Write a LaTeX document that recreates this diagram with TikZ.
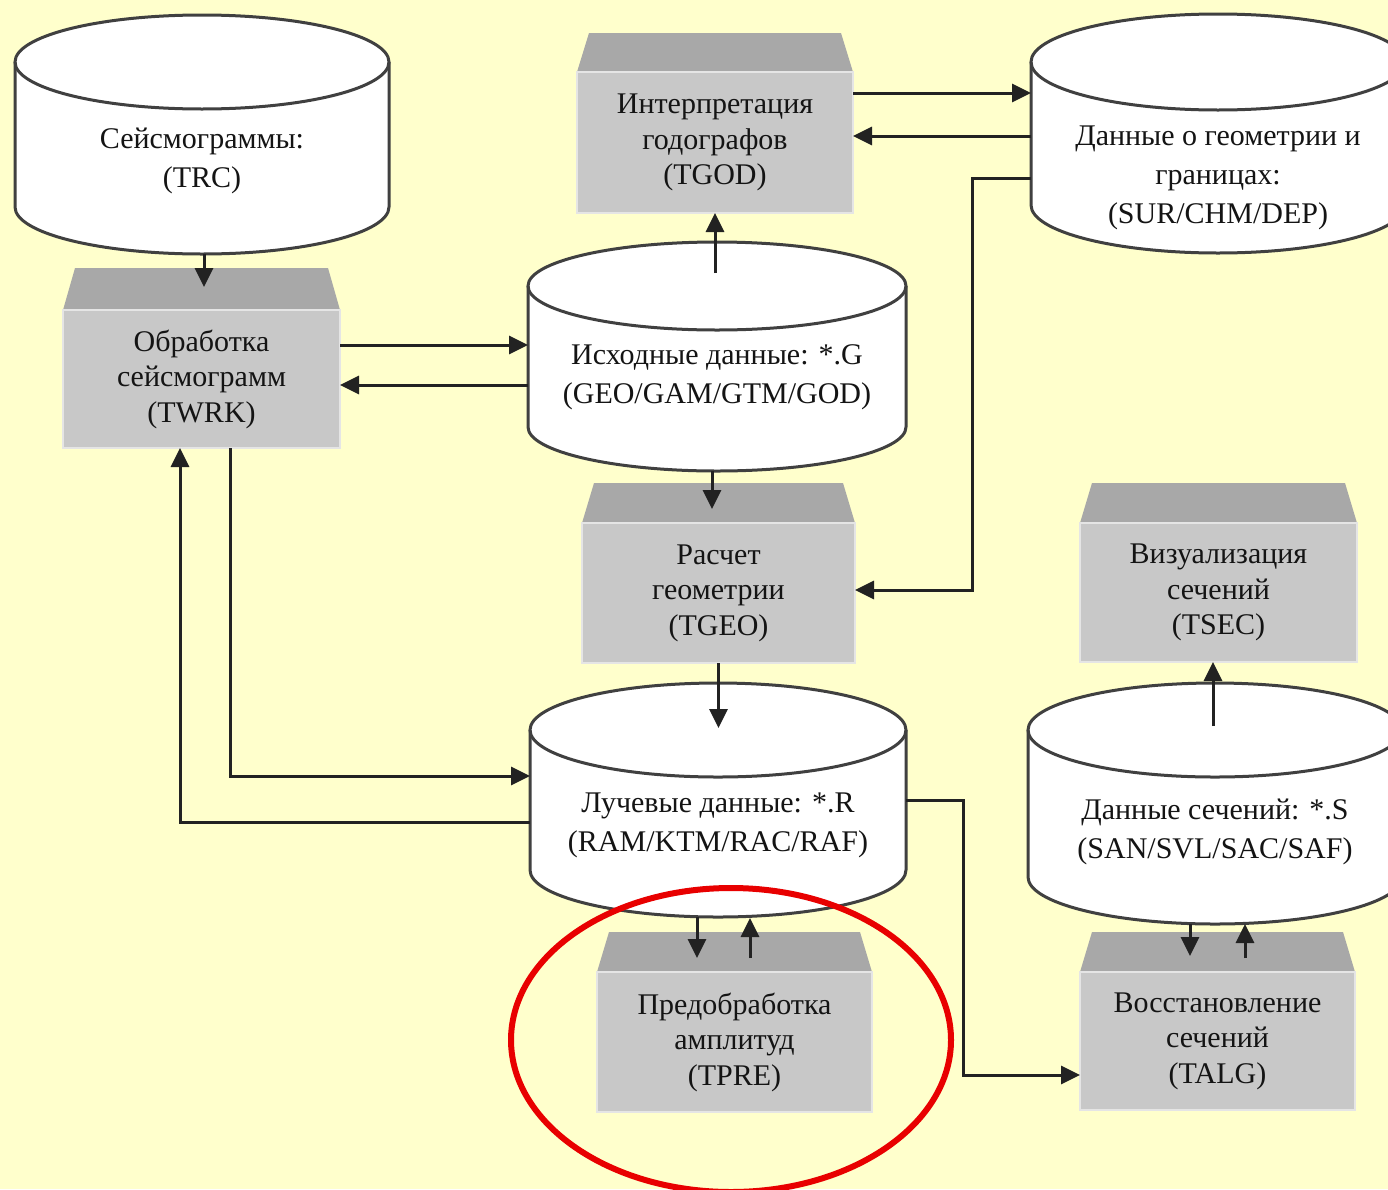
\documentclass[tikz,border=0pt]{standalone}
\usepackage{fontspec}
\setmainfont{Liberation Serif}
\usetikzlibrary{arrows.meta,calc}
\definecolor{bg}{HTML}{FFFFCC}
\definecolor{hdr}{HTML}{A8A8A8}
\definecolor{bodyc}{HTML}{C8C8C8}
\definecolor{edgec}{HTML}{404040}
\definecolor{lnc}{HTML}{222222}
\definecolor{markc}{HTML}{E80000}
\tikzset{
  cyledge/.style={draw=edgec, line width=3pt},
  cyltext/.style={inner sep=0pt, outer sep=0pt, align=center, text=black!92, font=\fontsize{30}{39}\selectfont},
  procbody/.style={fill=bodyc, draw=white!90!black, line width=1.2pt, inner sep=0pt, outer sep=0pt, align=center, text=black!92, font=\fontsize{30}{35.5}\selectfont},
  hdrfill/.style={fill=hdr},
  arr/.style={draw=lnc, line width=3pt, -{Triangle[length=19pt,width=18pt]}},
  markring/.style={draw=markc, line width=6pt}
}
% #1 name, #2 cx, #3 top-ellipse centre y, #4 bottom-ellipse centre y, #5 rx, #6 ry, #7 text y, #8 text
\newcommand\dbcyl[8]{%
  \fill[white] (#2-#5,#3) -- (#2-#5,#4) arc[start angle=180,end angle=0,x radius=#5,y radius=#6] -- (#2+#5,#3) arc[start angle=0,end angle=-180,x radius=#5,y radius=#6] -- cycle;
  \draw[cyledge] (#2-#5,#3) -- (#2-#5,#4) arc[start angle=180,end angle=0,x radius=#5,y radius=#6] -- (#2+#5,#3);
  \draw[cyledge] (#2,#3) ellipse[x radius=#5,y radius=#6];
  \coordinate (#1-top) at (#2,#3-#6);
  \coordinate (#1-bot) at (#2,#4+#6);
  \node[cyltext, minimum width={2*#5*1pt}] (#1) at (#2,#7) {#8};
}
% #1 name, #2 x1, #3 x2, #4 header top y, #5 body top y, #6 body bottom y, #7 text
\newcommand\procbox[7]{%
  \fill[hdrfill] (#2,#5) -- (#2+12,#4) -- (#3-12,#4) -- (#3,#5) -- cycle;
  \node[procbody, minimum width={(#3-#2)*1pt}, minimum height={(#6-#5)*1pt}] (#1) at ({(#2+#3)/2},{(#5+#6)/2}) {#7};
}
\begin{document}
\begin{tikzpicture}[x=1pt,y=-1pt]
\useasboundingbox (0,0) rectangle (1388,1189);
\fill[bg] (0,0) rectangle (1388,1189);
\clip (0,0) rectangle (1388,1189);

% process boxes
\procbox{twrk}{63}{340}{268}{310}{448}{Обработка\\сейсмограмм\\(TWRK)}
\procbox{tgod}{577}{853}{33}{72}{213}{Интерпретация\\годографов\\(TGOD)}
\procbox{tgeo}{582}{855}{483}{523}{663}{Расчет\\геометрии\\(TGEO)}
\procbox{tsec}{1080}{1357}{483}{523}{662}{Визуализация\\сечений\\(TSEC)}
\procbox{tpre}{597}{872}{932}{972}{1112}{Предобработка\\амплитуд\\(TPRE)}
\procbox{talg}{1080}{1355}{932}{972}{1110}{Восстановление\\сечений\\(TALG)}

% data stores
\dbcyl{trc}{202}{62}{207}{187}{47}{161}{Сейсмограммы:\\(TRC)}
\dbcyl{geo}{717}{286}{427}{189}{44}{377}{Исходные данные: *.G\\(GEO/GAM/GTM/GOD)}
\dbcyl{geom}{1218}{62}{205}{187}{48}{178}{Данные о геометрии и\\границах:\\(SUR/CHM/DEP)}
\dbcyl{ray}{718}{730}{870}{188}{47}{825}{Лучевые данные: *.R\\(RAM/KTM/RAC/RAF)}
\dbcyl{sec}{1215}{730}{877}{187}{47}{832}{Данные сечений: *.S\\(SAN/SVL/SAC/SAF)}

% connectors
\draw[arr] (trc-bot -| 204,0) -- (204,287);
\draw[arr] (twrk.east |- 0,345) -- (geo.west |- 0,345);
\draw[arr] (geo.west |- 0,385) -- (twrk.east |- 0,385);
\draw[arr] (tgod.south |- 0,273) -- (tgod.south);
\draw[arr] (tgod.east |- 0,93) -- (geom.west |- 0,93);
\draw[arr] (geom.west |- 0,136) -- (tgod.east |- 0,136);
\draw[arr] (geom.west |- 0,178) -| (972,590) -- (tgeo.east |- 0,590);
\draw[arr] (geo-bot -| 712,0) -- (712,509);
\draw[arr] (tgeo.south) -- (tgeo.south |- 0,728);
\draw[arr] (twrk.south -| 230,0) |- (ray.west |- 0,776);
\draw[arr] (ray.west |- 0,822) -| (twrk.south -| 180,0);
\draw[arr] (ray.east |- 0,800) -| (963,1075) -- (talg.west |- 0,1075);
\draw[arr] (ray-bot -| 697,0) -- (697,958);
\draw[arr] (tpre.north -| 750,0) ++(0,-14) -- (750,918);
\draw[arr] (sec-top -| 1213,0) ++(0,43) -- (tsec.south -| 1213,0);
\draw[arr] (sec-bot -| 1190,0) -- (1190,956);
\draw[arr] (1245,958) -- (sec-bot -| 1245,0);

% highlight ring
\draw[markring] (731,1040) ellipse[x radius=220, y radius=152];
\end{tikzpicture}
\end{document}
